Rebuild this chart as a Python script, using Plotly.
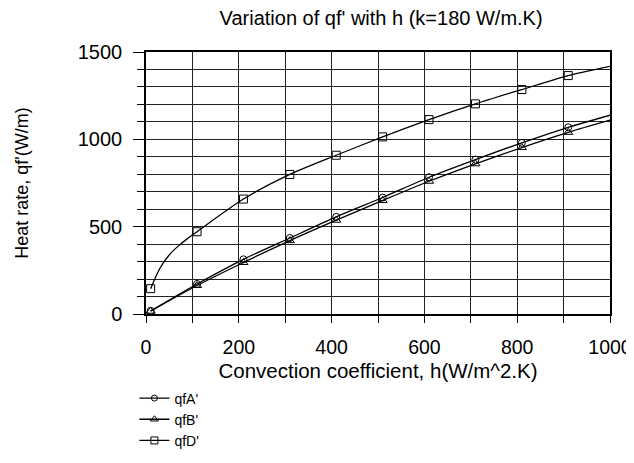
import plotly.graph_objects as go

# marker positions (h, W/m^2.K)
h_marks = [10, 110, 210, 310, 410, 510, 610, 710, 810, 910]
qfA_marks = [18, 172, 313, 435, 556, 667, 783, 884, 980, 1069]
qfB_marks = [16, 163, 295, 420, 537, 650, 760, 860, 953, 1040]
qfD_marks = [145, 471, 658, 799, 909, 1014, 1113, 1203, 1285, 1365]

# curve points
h_lineA = [10, 110, 210, 310, 410, 510, 610, 710, 810, 910, 1000]
qfA_line = [18, 172, 313, 435, 556, 667, 783, 884, 980, 1069, 1138]
h_lineB = [10, 110, 210, 310, 410, 510, 610, 710, 810, 910, 1000]
qfB_line = [16, 163, 295, 420, 537, 650, 760, 860, 953, 1040, 1110]
h_lineD = [10, 30, 50, 70, 90, 110, 210, 310, 410, 510, 610, 710, 810, 910, 1000]
qfD_line = [145, 262, 338, 390, 433, 471, 658, 799, 909, 1014, 1113, 1203, 1285, 1365, 1418]

names = ["qfA'", "qfB'", "qfD'"]
symbols = ["circle-open", "triangle-up-open", "square-open"]
sizes = [7, 8, 8]

FONT = "Liberation Sans, Arial, sans-serif"

fig = go.Figure()
for name, sym, sz, hl, vl, vm in zip(names, symbols, sizes,
                                      [h_lineA, h_lineB, h_lineD],
                                      [qfA_line, qfB_line, qfD_line],
                                      [qfA_marks, qfB_marks, qfD_marks]):
    fig.add_trace(go.Scatter(
        x=hl, y=vl, mode="lines", showlegend=False, hoverinfo="skip",
        line=dict(color="black", width=1.3, shape="spline", smoothing=0.8),
    ))
    fig.add_trace(go.Scatter(
        x=h_marks, y=vm, mode="markers", showlegend=False, name=name,
        marker=dict(symbol=sym, size=sz, color="black",
                    line=dict(color="black", width=1)),
    ))
    fig.add_trace(go.Scatter(
        x=[None], y=[None], mode="lines+markers", name=name,
        line=dict(color="black", width=1.3),
        marker=dict(symbol=sym, size=sz - 1, color="black",
                    line=dict(color="black", width=1)),
    ))

# page body has an 8px margin, so the figure is 8px smaller than the window
fig.update_layout(
    width=626, height=455,
    margin=dict(l=138, r=24, t=44, b=149),
    paper_bgcolor="white", plot_bgcolor="white",
    font=dict(family=FONT, color="black", size=19),
    title=dict(text="Variation of qf' with h (k=180 W/m.K)", x=0.596, xanchor="center",
               y=0.978, yanchor="middle", font=dict(size=20)),
    showlegend=True,
    legend=dict(x=-0.025, xanchor="left", y=0.177, yref="container", yanchor="top",
                font=dict(size=14), tracegroupgap=0, bgcolor="rgba(0,0,0,0)",
                itemwidth=30),
)
fig.update_xaxes(
    range=[0, 1000], dtick=200, tick0=0, automargin=False,
    ticks="outside", ticklen=7, tickwidth=1, tickcolor="black",
    showline=True, linecolor="black", linewidth=1.5, mirror=True,
    showgrid=True, gridcolor="#222", gridwidth=1,
    zeroline=False,
    tickfont=dict(size=19.5), ticklabelstandoff=8,
    minor=dict(dtick=100, ticks="outside", ticklen=7, tickcolor="black",
               showgrid=True, gridcolor="#222", gridwidth=1),
    title=dict(text="Convection coefficient, h(W/m^2.K)", font=dict(size=20.5), standoff=7),
)
fig.update_yaxes(
    range=[0, 1500], dtick=500, tick0=0, automargin=False,
    ticks="outside", ticklen=11, tickwidth=1, tickcolor="black",
    showline=True, linecolor="black", linewidth=1.5, mirror=True,
    showgrid=True, gridcolor="#222", gridwidth=1,
    zeroline=False,
    tickfont=dict(size=20), ticklabelstandoff=7,
    minor=dict(dtick=100, ticks="outside", ticklen=7, tickcolor="black",
               showgrid=True, gridcolor="#222", gridwidth=1),
    title=dict(text="Heat rate, qf'(W/m)", font=dict(size=18), standoff=44),
)

fig.write_html("out.html")
